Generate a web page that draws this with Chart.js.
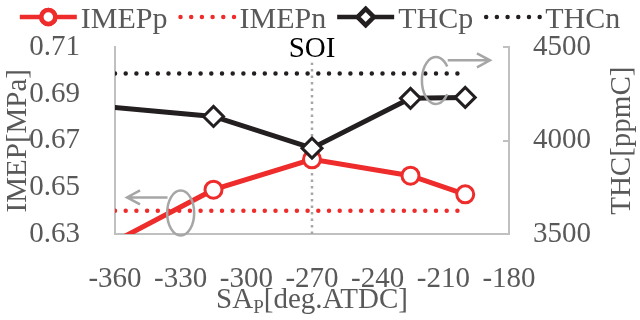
<!DOCTYPE html>
<html>
<head>
<meta charset="utf-8">
<script src="https://cdn.jsdelivr.net/npm/chart.js@4.4.1/dist/chart.umd.min.js"></script>
<style>
  html, body { margin: 0; padding: 0; background: #fff; }
  #wrap { width: 640px; height: 320px; position: relative; }
</style>
</head>
<body>
<div id="wrap"><canvas id="chart"></canvas></div>
<script>
// pilot injection timing sweep [deg.ATDC] (first point lies left of the plotted range)
const saP = [-390, -315, -270, -225, -200];
const imepP = [0.612, 0.649, 0.662, 0.655, 0.647];
const thcP = [4210, 4130, 3960, 4227, 4232];

// reference levels without pilot
const refX = [-360, -200];
const imepN = [0.640, 0.640];
const thcN = [4360, 4360];

const soiX = -270;

const xTicks = [-360, -330, -300, -270, -240, -210, -180];
const imepTicks = [0.63, 0.65, 0.67, 0.69, 0.71];
const thcTicks = [3500, 4000, 4500];

const RED = '#ee2c2c';
const BLACK = '#231f20';
const GRAY = '#a6a6a6';
const AXIS = '#c0c0c0';
const TEXT = '#595959';
const FAMILY = "'Liberation Serif'";

const pts = (xs, ys) => xs.map((x, i) => ({ x: x, y: ys[i] }));

// gray "which axis" markers, placed in data units
const ovals = [
  { axis: 'y', x: -330, v: 0.639, rx: 13.5, ry: 22.5, from: 0, to: Math.PI * 2 },
  { axis: 'y1', x: -213.4, v: 4323, rx: 14, ry: 23.5, from: Math.PI * 0.2, to: Math.PI * 1.8 }
];
const arrows = [
  { axis: 'y', x0: -336, x1: -354.5, v: 0.6457 },
  { axis: 'y1', x0: -208, x1: -188.7, v: 4431 }
];

const decor = {
  id: 'decor',
  afterDatasetsDraw(chart) {
    const { ctx, chartArea, scales } = chart;
    const x = scales.x;
    ctx.save();

    ctx.strokeStyle = GRAY;
    ctx.lineWidth = 2.5;
    ovals.forEach(o => {
      ctx.beginPath();
      ctx.ellipse(x.getPixelForValue(o.x), scales[o.axis].getPixelForValue(o.v), o.rx, o.ry, 0, o.from, o.to);
      ctx.stroke();
    });
    arrows.forEach(a => {
      const py = scales[a.axis].getPixelForValue(a.v);
      const p0 = x.getPixelForValue(a.x0);
      const p1 = x.getPixelForValue(a.x1);
      const d = Math.sign(p1 - p0);
      ctx.beginPath();
      ctx.moveTo(p0, py);
      ctx.lineTo(p1, py);
      ctx.moveTo(p1 - d * 13, py - 7);
      ctx.lineTo(p1, py);
      ctx.lineTo(p1 - d * 13, py + 7);
      ctx.stroke();
    });

    // SOI label on top of the dotted marker line
    const sx = x.getPixelForValue(soiX);
    ctx.font = '29px ' + FAMILY;
    const w = ctx.measureText('SOI').width;
    ctx.fillStyle = '#fff';
    ctx.fillRect(sx - w / 2 - 2, chartArea.top - 2, w + 4, 17);
    ctx.fillStyle = '#000';
    ctx.textAlign = 'center';
    ctx.textBaseline = 'alphabetic';
    ctx.fillText('SOI', sx, 57);
    ctx.restore();
  },
  afterDraw(chart) {
    const { ctx, chartArea } = chart;
    const midY = (chartArea.top + chartArea.bottom) / 2;
    ctx.save();
    ctx.fillStyle = TEXT;
    ctx.font = '29px ' + FAMILY;
    ctx.textAlign = 'center';
    ctx.textBaseline = 'alphabetic';

    // axis titles
    ctx.save();
    ctx.translate(26, midY);
    ctx.rotate(-Math.PI / 2);
    ctx.fillText('IMEP[MPa]', 0, 0);
    ctx.restore();
    ctx.save();
    ctx.translate(630, midY);
    ctx.rotate(-Math.PI / 2);
    ctx.fillText('THC[ppmC]', 0, 0);
    ctx.restore();

    // x title with subscript P
    const big = '29px ' + FAMILY, small = '19px ' + FAMILY;
    ctx.textAlign = 'left';
    ctx.font = big;
    const wA = ctx.measureText('SA').width;
    const wC = ctx.measureText('[deg.ATDC]').width;
    ctx.font = small;
    const wB = ctx.measureText('P').width;
    let tx = (chartArea.left + chartArea.right) / 2 - (wA + wB + wC) / 2;
    const base = 308;
    ctx.font = big;
    ctx.fillText('SA', tx, base);
    tx += wA;
    ctx.font = small;
    ctx.fillText('P', tx, base + 5);
    tx += wB;
    ctx.font = big;
    ctx.fillText('[deg.ATDC]', tx, base);

    // legend
    const items = chart.data.datasets.filter(d => d.label);
    const symLen = 57, gapIn = 4, gapOut = 11, ly = 17;
    ctx.font = '30px ' + FAMILY;
    const widths = items.map(d => ctx.measureText(d.label).width);
    const total = widths.reduce((a, b) => a + b, 0) + items.length * (symLen + gapIn) + (items.length - 1) * gapOut;
    let lx = 320 - total / 2;
    items.forEach((d, i) => {
      ctx.save();
      ctx.strokeStyle = d.borderColor;
      if (d.borderDash) {
        ctx.lineWidth = 4.5;
        ctx.lineCap = 'round';
        ctx.setLineDash(d.borderDash);
        ctx.beginPath();
        ctx.moveTo(lx + 2, ly);
        ctx.lineTo(lx + symLen, ly);
        ctx.stroke();
      } else {
        ctx.lineWidth = 4.5;
        ctx.beginPath();
        ctx.moveTo(lx, ly);
        ctx.lineTo(lx + symLen, ly);
        ctx.stroke();
        Chart.helpers.drawPoint(ctx, {
          pointStyle: d.pointStyle,
          radius: d.pointStyle === 'circle' ? 7 : 8,
          borderWidth: 3,
          rotation: 0
        }, lx + symLen / 2, ly);
        ctx.fillStyle = '#fff';
        ctx.fill();
        ctx.stroke();
      }
      ctx.restore();
      lx += symLen + gapIn;
      ctx.fillStyle = TEXT;
      ctx.fillText(d.label, lx, 28);
      lx += widths[i] + gapOut;
    });
    ctx.restore();
  }
};

const tickFont = { family: FAMILY, size: 29 };

new Chart(document.getElementById('chart'), {
  type: 'line',
  data: {
    datasets: [
      {
        label: 'IMEPp', data: pts(saP, imepP), yAxisID: 'y', order: 4,
        borderColor: RED, borderWidth: 5, pointStyle: 'circle', pointRadius: 8.5,
        pointBorderWidth: 3, pointBackgroundColor: '#fff', pointBorderColor: RED
      },
      {
        label: 'IMEPn', data: pts(refX, imepN), yAxisID: 'y', order: 3,
        borderColor: RED, borderWidth: 4.5, borderDash: [0, 10.7], borderCapStyle: 'round',
        pointRadius: 0
      },
      {
        label: 'THCp', data: pts(saP, thcP), yAxisID: 'y1', order: 1,
        borderColor: BLACK, borderWidth: 5, pointStyle: 'rectRot', pointRadius: 10,
        pointBorderWidth: 3, pointBackgroundColor: '#fff', pointBorderColor: BLACK
      },
      {
        label: 'THCn', data: pts(refX, thcN), yAxisID: 'y1', order: 2,
        borderColor: BLACK, borderWidth: 4.5, borderDash: [0, 10.7], borderCapStyle: 'round',
        pointRadius: 0
      },
      {
        data: pts([soiX, soiX], [imepTicks[0], imepTicks[imepTicks.length - 1]]), yAxisID: 'y', order: 10,
        borderColor: GRAY, borderWidth: 2.5, borderDash: [2.5, 4], pointRadius: 0
      }
    ]
  },
  options: {
    responsive: true,
    maintainAspectRatio: false,
    animation: false,
    events: [],
    layout: { padding: { top: 45, left: 0, right: 0, bottom: 0 } },
    plugins: { legend: { display: false }, tooltip: { enabled: false } },
    scales: {
      x: {
        type: 'linear',
        min: xTicks[0], max: xTicks[xTicks.length - 1],
        afterBuildTicks: s => { s.ticks = xTicks.map(value => ({ value })); },
        afterFit: s => { s.height = 86; },
        grid: { display: false },
        border: { display: true, color: AXIS, width: 2 },
        ticks: { color: TEXT, font: tickFont, padding: 20, maxRotation: 0, autoSkip: false, callback: v => String(v) }
      },
      y: {
        position: 'left',
        min: imepTicks[0], max: imepTicks[imepTicks.length - 1],
        afterBuildTicks: s => { s.ticks = imepTicks.map(value => ({ value })); },
        afterFit: s => { s.width = 115; },
        grid: { display: false },
        border: { display: true, color: AXIS, width: 2 },
        ticks: { color: TEXT, font: tickFont, padding: 27, callback: v => v.toFixed(2) }
      },
      y1: {
        position: 'right',
        min: thcTicks[0], max: thcTicks[thcTicks.length - 1],
        afterBuildTicks: s => { s.ticks = thcTicks.map(value => ({ value })); },
        afterFit: s => { s.width = 131; },
        grid: { display: true, drawOnChartArea: false, drawTicks: true, tickLength: -6, color: AXIS, lineWidth: 2 },
        border: { display: true, color: AXIS, width: 2 },
        ticks: { color: TEXT, font: tickFont, padding: 30, callback: v => String(v) }
      }
    }
  },
  plugins: [decor]
});
</script>
</body>
</html>
